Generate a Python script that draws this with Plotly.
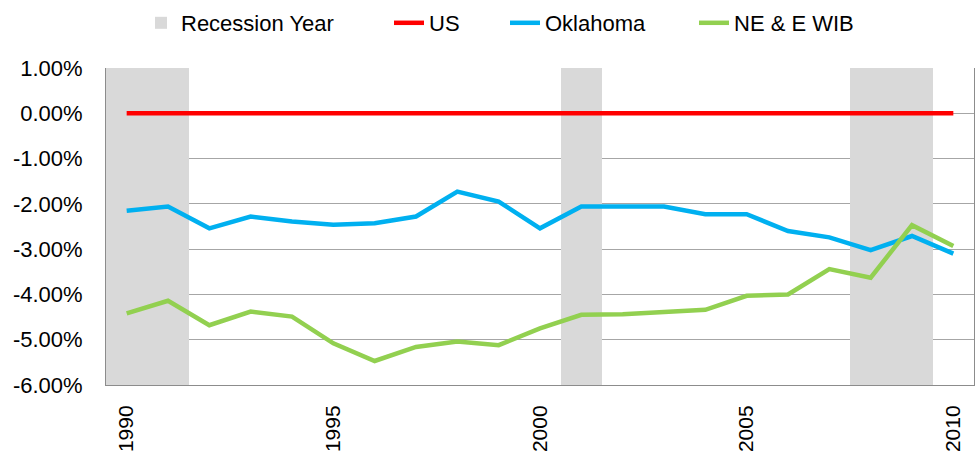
import plotly.graph_objects as go

years = list(range(1990, 2011))
us = [0.0] * 21
oklahoma = [-2.15, -2.06, -2.54, -2.28, -2.39, -2.46, -2.43, -2.28, -1.73, -1.95, -2.54,
            -2.06, -2.06, -2.06, -2.23, -2.23, -2.60, -2.74, -3.02, -2.71, -3.10]
ne_e_wib = [-4.42, -4.14, -4.68, -4.38, -4.49, -5.08, -5.47, -5.16, -5.04, -5.12, -4.75,
            -4.45, -4.44, -4.40, -4.34, -4.03, -4.00, -3.44, -3.63, -2.47, -2.93]
recession_years = [1990, 1991, 2001, 2008, 2009]

y_tickvals = [1, 0, -1, -2, -3, -4, -5, -6]
y_ticktext = ["1.00%", "0.00%", "-1.00%", "-2.00%", "-3.00%", "-4.00%", "-5.00%", "-6.00%"]
x_tickvals = [1990, 1995, 2000, 2005, 2010]
x_ticktext = ["1990", "1995", "2000", "2005", "2010"]

W, H = 979, 455
FONT = "Liberation Sans, Arial, sans-serif"
FS = 22

fig = go.Figure()
fig.add_trace(go.Bar(
    x=recession_years, y=[7] * len(recession_years), base=-6, width=1,
    marker=dict(color="#d9d9d9", line=dict(width=0)),
    name="Recession Year", legend="legend", hoverinfo="skip"))
fig.add_trace(go.Scatter(x=years, y=us, mode="lines", name="US",
                         line=dict(color="#ff0000", width=4.5), legend="legend2"))
fig.add_trace(go.Scatter(x=years, y=oklahoma, mode="lines", name="Oklahoma",
                         line=dict(color="#00b0f0", width=4.5), legend="legend3"))
fig.add_trace(go.Scatter(x=years, y=ne_e_wib, mode="lines", name="NE & E WIB",
                         line=dict(color="#92d050", width=4.5), legend="legend4"))

def leg(px):
    return dict(x=px / W, xref="container", xanchor="left",
                y=1 - 23 / H, yref="container", yanchor="middle",
                orientation="h", bgcolor="rgba(0,0,0,0)",
                font=dict(family=FONT, size=FS, color="#000000"))

fig.update_layout(
    width=W, height=H,
    margin=dict(l=106, r=5, t=68, b=70, autoexpand=False),
    paper_bgcolor="white", plot_bgcolor="white",
    bargap=0,
    showlegend=True,
    legend=leg(141), legend2=leg(389), legend3=leg(505), legend4=leg(694),
    font=dict(family=FONT, size=FS, color="#000000"),
)
fig.update_xaxes(
    range=[1989.5, 2010.5], tickmode="array", tickvals=x_tickvals, ticktext=x_ticktext,
    tickangle=-90, showgrid=False, zeroline=False, automargin=False,
    showline=True, linecolor="#8c8c8c", linewidth=1,
    ticks="", ticklabelstandoff=11,
    tickfont=dict(family=FONT, size=21, color="#000000"))
fig.update_yaxes(
    range=[-6, 1], tickmode="array", tickvals=y_tickvals, ticktext=y_ticktext,
    showgrid=True, gridcolor="#a6a6a6", gridwidth=1, zeroline=False, automargin=False,
    showline=True, mirror=True, linecolor="#8c8c8c", linewidth=1,
    ticks="", ticklabelstandoff=18,
    tickfont=dict(family=FONT, size=FS, color="#000000"))

fig.write_html("out.html", config={"displayModeBar": False},
               post_script="document.body.style.margin='0px';")
